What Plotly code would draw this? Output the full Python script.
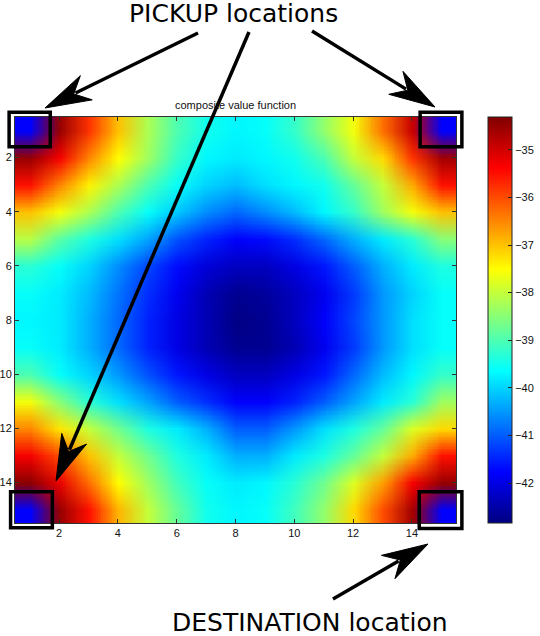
import plotly.graph_objects as go

# ---------------- data ----------------
cols = list(range(1, 16))
rows = list(range(1, 16))
tick_vals = [2, 4, 6, 8, 10, 12, 14]
cbar_ticks = [-42, -41, -40, -39, -38, -37, -36, -35]

values = [
    [-41.8, -34.5, -35.8, -37.0, -38.2, -39.0, -39.5, -39.7, -39.6, -39.2, -38.4, -37.6, -36.3, -34.9, -41.8],
    [-34.5, -35.3, -36.5, -37.5, -38.3, -39.2, -39.7, -39.8, -39.7, -39.5, -39.0, -38.0, -37.2, -35.8, -34.6],
    [-35.5, -36.5, -37.4, -38.2, -39.0, -39.6, -40.0, -40.2, -39.9, -39.7, -39.5, -38.8, -38.0, -36.8, -35.5],
    [-37.0, -37.6, -38.2, -39.0, -39.6, -40.1, -40.6, -40.9, -40.6, -40.2, -39.7, -39.2, -38.3, -37.6, -37.0],
    [-38.1, -38.9, -39.4, -39.9, -40.4, -41.1, -41.5, -41.8, -41.7, -41.4, -40.9, -40.3, -39.8, -39.3, -38.5],
    [-39.3, -39.6, -40.0, -40.6, -41.2, -41.7, -42.1, -42.3, -42.3, -42.0, -41.6, -41.0, -40.3, -39.8, -39.4],
    [-39.6, -39.8, -40.2, -40.8, -41.4, -41.9, -42.4, -42.7, -42.6, -42.3, -41.9, -41.3, -40.5, -40.0, -39.6],
    [-39.7, -39.8, -40.3, -40.9, -41.5, -42.0, -42.4, -42.8, -42.7, -42.3, -41.8, -41.2, -40.5, -39.9, -39.6],
    [-39.6, -39.8, -40.3, -40.9, -41.5, -42.0, -42.4, -42.7, -42.7, -42.4, -41.9, -41.3, -40.5, -39.9, -39.6],
    [-39.0, -39.6, -40.0, -40.5, -41.1, -41.6, -42.0, -42.3, -42.3, -42.0, -41.6, -40.9, -40.2, -39.7, -39.2],
    [-37.6, -38.5, -39.3, -39.9, -40.4, -41.0, -41.4, -41.8, -41.8, -41.5, -41.0, -40.4, -39.8, -39.3, -38.3],
    [-36.5, -37.3, -38.0, -38.7, -39.4, -39.8, -40.3, -41.0, -41.0, -40.5, -39.9, -39.4, -38.8, -37.8, -37.2],
    [-35.3, -36.0, -37.0, -38.0, -38.7, -39.4, -39.8, -40.3, -40.3, -39.8, -39.4, -38.8, -38.0, -36.8, -35.5],
    [-34.4, -35.2, -36.3, -37.5, -38.3, -39.1, -39.6, -39.8, -39.7, -39.3, -38.7, -37.8, -36.7, -35.3, -34.5],
    [-41.8, -34.5, -35.5, -36.9, -38.0, -38.8, -39.5, -39.7, -39.6, -39.1, -38.4, -37.2, -36.0, -34.6, -41.8],
]

z_min, z_max = -42.84, -34.31

# ---------------- layout geometry (pixels) ----------------
W, H = 540, 636
PX0, PX1, PY0, PY1 = 15, 456, 117, 523
PW, PH = PX1 - PX0, PY1 - PY0


def pp(px, py):
    """pixel -> paper coordinates"""
    return (px - PX0) / PW, (PY1 - py) / PH


def dp(x, y):
    """data -> paper (y reversed)"""
    return (x - 0.5) / 15.0, (15.5 - y) / 15.0


jet = [
    [0.0, "rgb(0,0,128)"],
    [0.125, "rgb(0,0,255)"],
    [0.375, "rgb(0,255,255)"],
    [0.625, "rgb(255,255,0)"],
    [0.875, "rgb(255,0,0)"],
    [1.0, "rgb(128,0,0)"],
]

fig = go.Figure(
    go.Heatmap(
        z=values, x=cols, y=rows,
        colorscale=jet, zmin=z_min, zmax=z_max,
        zsmooth="fast",
        colorbar=dict(
            x=(488 - PX0) / PW, xanchor="left", xpad=0, ypad=0,
            y=0.5, yanchor="middle", len=1, lenmode="fraction",
            thickness=24, outlinecolor="#222", outlinewidth=1,
            tickvals=cbar_ticks, ticks="inside", ticklen=4, tickcolor="#222",
            tickfont=dict(family="Liberation Sans", size=11, color="#111"),
        ),
        hoverinfo="skip",
    )
)

axis_common = dict(
    showline=True, linecolor="#333", linewidth=1, mirror="ticks",
    ticks="inside", ticklen=4, tickcolor="#333",
    tickvals=tick_vals, showgrid=False, zeroline=False, automargin=False,
    tickfont=dict(family="Liberation Sans", size=11, color="#111"),
)
fig.update_xaxes(range=[0.5, 15.5], **axis_common)
fig.update_yaxes(range=[15.5, 0.5], **axis_common)

shapes = []
# boxes around corner cells (data coords -> paper)
boxes = [
    (0.3, 1.7, 0.32, 1.6),
    (14.28, 15.7, 0.32, 1.6),
    (0.35, 1.77, 14.35, 15.68),
    (14.25, 15.7, 14.35, 15.7),
]
for x0, x1, y0, y1 in boxes:
    a = dp(x0, y0)
    b = dp(x1, y1)
    shapes.append(dict(type="rect", xref="paper", yref="paper",
                       x0=a[0], x1=b[0], y0=b[1], y1=a[1],
                       line=dict(color="black", width=3.5), fillcolor="rgba(0,0,0,0)"))

# arrows (pixel tail -> pixel tip)
arrows = [
    ((198, 33), (45, 108)),
    ((312, 31), (435, 107)),
    ((249, 32), (56, 481)),
    ((333, 599), (428, 544)),
]
HL, HW, NOTCH = 46, 13.5, 32
for (tx, ty), (hx, hy) in arrows:
    dx, dy = hx - tx, hy - ty
    L = (dx * dx + dy * dy) ** 0.5
    ux, uy = dx / L, dy / L
    nx, ny = -uy, ux
    bx, by = hx - ux * HL, hy - uy * HL
    w1 = (bx + nx * HW, by + ny * HW)
    w2 = (bx - nx * HW, by - ny * HW)
    nt = (hx - ux * NOTCH, hy - uy * NOTCH)
    le = (hx - ux * (NOTCH + 2), hy - uy * (NOTCH + 2))
    a = pp(tx, ty)
    b = pp(*le)
    shapes.append(dict(type="line", xref="paper", yref="paper",
                       x0=a[0], y0=a[1], x1=b[0], y1=b[1],
                       line=dict(color="black", width=3.5)))
    pts = [pp(hx, hy), pp(*w1), pp(*nt), pp(*w2)]
    path = "M " + " L ".join(f"{p[0]:.5f},{p[1]:.5f}" for p in pts) + " Z"
    shapes.append(dict(type="path", xref="paper", yref="paper", path=path,
                       fillcolor="black", line=dict(color="black", width=1)))

annotations = []
t1 = pp(233, 14)
annotations.append(dict(text="PICKUP locations", xref="paper", yref="paper",
                        x=t1[0], y=t1[1], xanchor="center", yanchor="middle",
                        showarrow=False,
                        font=dict(family="DejaVu Sans", size=25, color="black")))
t2 = pp(310, 622)
annotations.append(dict(text="DESTINATION location", xref="paper", yref="paper",
                        x=t2[0], y=t2[1], xanchor="center", yanchor="middle",
                        showarrow=False,
                        font=dict(family="DejaVu Sans", size=25, color="black")))
t3 = pp(236, 105)
annotations.append(dict(text="composite value function", xref="paper", yref="paper",
                        x=t3[0], y=t3[1], xanchor="center", yanchor="middle",
                        showarrow=False,
                        font=dict(family="Liberation Sans", size=11, color="#111")))

fig.update_layout(
    width=W, height=H,
    margin=dict(l=PX0, r=W - PX1, t=PY0, b=H - PY1, pad=0, autoexpand=False),
    paper_bgcolor="white", plot_bgcolor="white",
    shapes=shapes, annotations=annotations,
    showlegend=False,
)

fig.write_html(
    "out.html",
    config={"displayModeBar": False},
    post_script="document.body.style.margin='0px';document.body.style.overflow='hidden';",
)
